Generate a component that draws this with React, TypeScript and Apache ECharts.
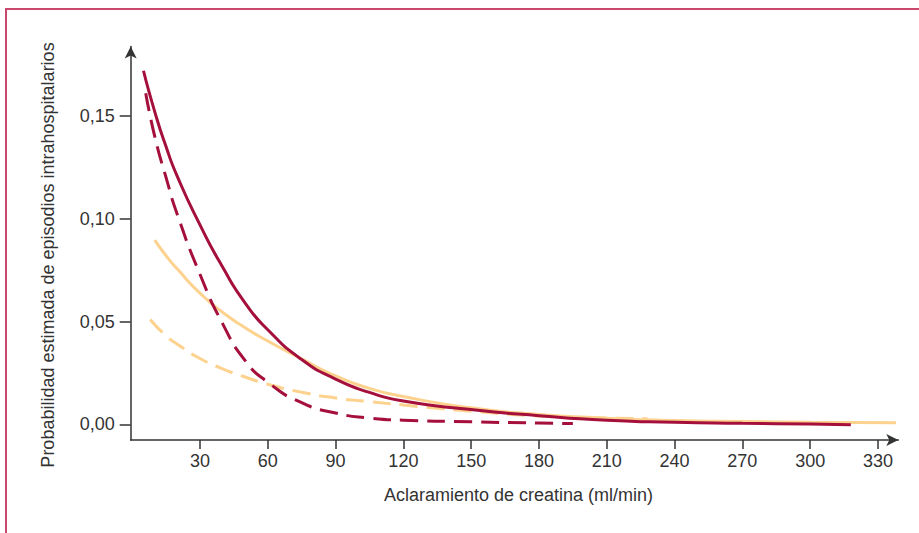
import React, { useEffect, useRef } from 'react';
import * as echarts from 'echarts';

const xTickValues = [30, 60, 90, 120, 150, 180, 210, 240, 270, 300, 330];
const yTickValues = [0, 0.05, 0.1, 0.15];
const yTickLabels = ['0,00', '0,05', '0,10', '0,15'];
const xAxisName = 'Aclaramiento de creatina (ml/min)';
const yAxisName = 'Probabilidad estimada de episodios intrahospitalarios';

const solidRedX = [5, 10, 15, 20, 30, 40, 50, 60, 75, 90, 105, 120, 150, 180, 210, 240, 270, 300, 318];
const solidRedY = [0.172, 0.152, 0.135, 0.1205, 0.097, 0.0765, 0.059, 0.046, 0.0315, 0.022, 0.0155, 0.0113, 0.0072, 0.0042, 0.002, 0.001, 0.0005, 0.0001, -0.0002];

const dashedRedX = [6, 10, 15, 20, 30, 40, 50, 60, 75, 90, 105, 120, 150, 180, 195];
const dashedRedY = [0.161, 0.14, 0.12, 0.102, 0.073, 0.049, 0.031, 0.0205, 0.0105, 0.0055, 0.003, 0.002, 0.0012, 0.0006, 0.0004];

const solidYellowX = [10, 15, 20, 30, 40, 50, 60, 75, 90, 105, 120, 150, 180, 210, 240, 270, 300, 338];
const solidYellowY = [0.0896, 0.082, 0.0755, 0.0638, 0.0545, 0.047, 0.0405, 0.0318, 0.0235, 0.0175, 0.0135, 0.008, 0.0048, 0.003, 0.0018, 0.0013, 0.001, 0.0008];

const dashedYellowX = [8, 15, 20, 30, 40, 50, 60, 75, 90, 105, 120, 135, 150, 180, 200, 228];
const dashedYellowY = [0.051, 0.043, 0.039, 0.032, 0.027, 0.023, 0.0195, 0.0156, 0.0128, 0.011, 0.0094, 0.0078, 0.0064, 0.004, 0.0033, 0.0027];

const RED = '#a50f3c';
const YELLOW = '#fdd28e';
const AXIS = '#333333';
const FONT = "'Liberation Sans', Arial, Helvetica, sans-serif";

const pairs = (xs: number[], ys: number[]) => xs.map((x, i) => [x, ys[i]]);

export default function App() {
  const ref = useRef<HTMLDivElement>(null);
  useEffect(() => {
    if (!ref.current) return;
    const chart = echarts.init(ref.current, undefined, { renderer: 'svg' });
    const axisLine = {
      show: true,
      onZero: false,
      lineStyle: { color: AXIS, width: 1.5 },
      symbol: ['none', 'arrow'],
      symbolSize: [9, 12],
    };
    const lineSeries = (name: string, data: number[][], color: string, dashed: boolean) => ({
      name,
      type: 'line',
      data,
      symbol: 'none',
      showSymbol: false,
      smooth: 0.6,
      lineStyle: {
        color,
        width: 3,
        type: dashed ? [18, 9] : 'solid',
      },
      z: color === RED ? 3 : 2,
    });
    chart.setOption({
      animation: false,
      grid: { left: 130.7, right: 20.7, top: 46.5, bottom: 93 },
      xAxis: {
        type: 'value',
        min: -0.66,
        max: 339,
        axisLine,
        axisTick: { show: true, length: 9, customValues: xTickValues, lineStyle: { color: AXIS, width: 1.5 } },
        axisLabel: {
          customValues: xTickValues,
          margin: 12,
          fontSize: 18,
          color: AXIS,
          fontFamily: FONT,
        },
        splitLine: { show: false },
      },
      yAxis: {
        type: 'value',
        min: -0.00764,
        max: 0.1838,
        axisLine,
        axisTick: { show: true, length: 11, customValues: yTickValues, lineStyle: { color: AXIS, width: 1.5 } },
        axisLabel: {
          customValues: yTickValues,
          margin: 16,
          fontSize: 18,
          color: AXIS,
          fontFamily: FONT,
          formatter: (v: number) => {
            const i = yTickValues.findIndex((t) => Math.abs(t - v) < 1e-9);
            return i >= 0 ? yTickLabels[i] : '';
          },
        },
        splitLine: { show: false },
      },
      graphic: [
        {
          type: 'rect',
          silent: true,
          shape: { x: 6, y: 9, width: 1200, height: 1200 },
          style: { fill: 'none', stroke: '#c9486c', lineWidth: 2 },
        },
        {
          type: 'text',
          x: 48,
          y: 255,
          rotation: Math.PI / 2,
          style: {
            text: yAxisName,
            fontSize: 18,
            fontFamily: FONT,
            fill: AXIS,
            align: 'center',
            verticalAlign: 'middle',
          },
        },
        {
          type: 'text',
          x: 518.5,
          y: 495,
          style: {
            text: xAxisName,
            fontSize: 18,
            fontFamily: FONT,
            fill: AXIS,
            align: 'center',
            verticalAlign: 'middle',
          },
        },
      ],
      series: [
        lineSeries('Amarillo discontinua', pairs(dashedYellowX, dashedYellowY), YELLOW, true),
        lineSeries('Amarillo continua', pairs(solidYellowX, solidYellowY), YELLOW, false),
        lineSeries('Rojo discontinua', pairs(dashedRedX, dashedRedY), RED, true),
        lineSeries('Rojo continua', pairs(solidRedX, solidRedY), RED, false),
      ],
    });
    return () => chart.dispose();
  }, []);
  return (
    <div
      ref={ref}
      style={{ position: 'absolute', left: 0, top: 0, width: 919, height: 533, background: '#ffffff' }}
    />
  );
}
